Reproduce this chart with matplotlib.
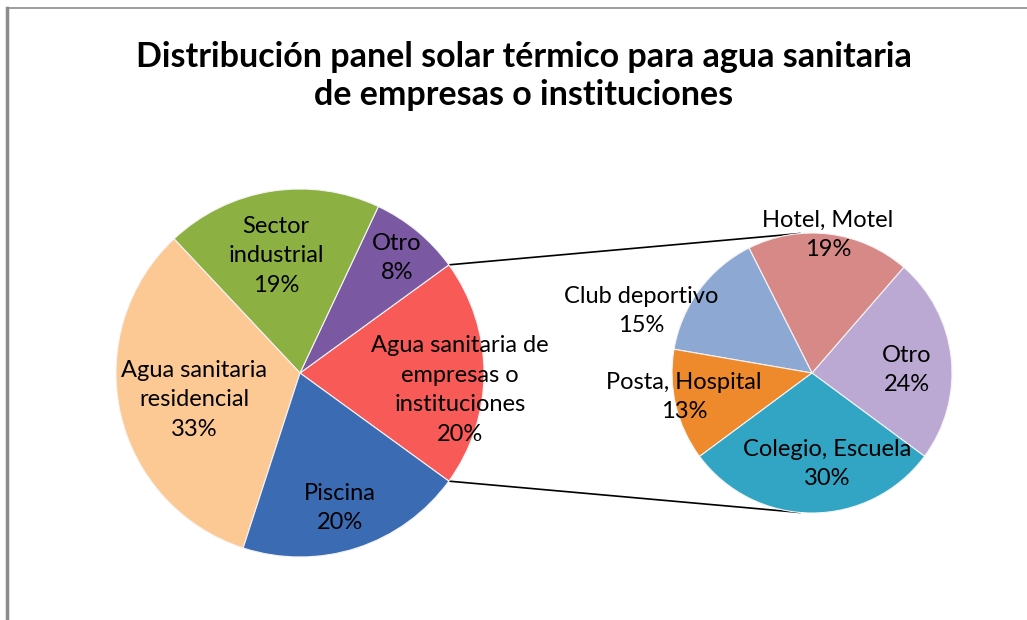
import matplotlib
matplotlib.use("Agg")
import matplotlib.pyplot as plt
import numpy as np
from matplotlib.lines import Line2D

# ---------------- data ----------------
title = "Distribución panel solar térmico para agua sanitaria\nde empresas o instituciones"

main_labels = ["Agua sanitaria de\nempresas o\ninstituciones", "Otro", "Sector\nindustrial",
               "Agua sanitaria\nresidencial", "Piscina"]
main_values = [20, 8, 19, 33, 20]
main_colors = ["#F85A58", "#7A58A2", "#8CB142", "#FCC994", "#3B6BB3"]

sub_labels = ["Otro", "Hotel, Motel", "Club deportivo", "Posta, Hospital", "Colegio, Escuela"]
sub_values = [24, 19, 15, 13, 30]
sub_colors = ["#BBA9D3", "#D78988", "#8EA8D4", "#EE8A2C", "#31A5C3"]

# ---------------- layout (pixels) ----------------
W, H = 1027, 620
fig = plt.figure(figsize=(W / 100, H / 100), dpi=100)
ax = fig.add_axes([0, 0, 1, 1])

def Y(y):
    return H - y

c1 = (300, Y(373)); r1 = 184
c2 = (812, Y(373)); r2 = 140

agg_span = main_values[0] / sum(main_values) * 360.0
start1 = -agg_span / 2.0
ax.pie(main_values, colors=main_colors, startangle=start1, counterclock=True,
       center=c1, radius=r1, frame=True,
       wedgeprops=dict(edgecolor="#F4F4F4", linewidth=0.8))

start2 = -36.5
ax.pie(sub_values, colors=sub_colors, startangle=start2, counterclock=True,
       center=c2, radius=r2, frame=True,
       wedgeprops=dict(edgecolor="#F4F4F4", linewidth=0.8))
ax.set_xlim(0, W)
ax.set_ylim(0, H)
ax.set_aspect("auto")
ax.axis("off")

# connector lines
a_top = np.deg2rad(agg_span / 2.0)
a_bot = np.deg2rad(-agg_span / 2.0)
p1 = (c1[0] + r1 * np.cos(a_top), c1[1] + r1 * np.sin(a_top))
p2 = (c1[0] + r1 * np.cos(a_bot), c1[1] + r1 * np.sin(a_bot))
q1 = (c2[0] + r2 * np.cos(np.deg2rad(95)), c2[1] + r2 * np.sin(np.deg2rad(95)))
q2 = (c2[0] + r2 * np.cos(np.deg2rad(-95)), c2[1] + r2 * np.sin(np.deg2rad(-95)))
ax.plot([p1[0], q1[0]], [p1[1], q1[1]], color="black", lw=1.2, zorder=0.5)
ax.plot([p2[0], q2[0]], [p2[1], q2[1]], color="black", lw=1.2, zorder=0.5)

# labels
font = "Lato"
fs = 17
ls = 1.5
main_pos = [(460, 390), (397, 258), (276, 256), (194, 400), (340, 508)]
for lab, v, (x, y) in zip(main_labels, main_values, main_pos):
    ax.text(x, Y(y), f"{lab}\n{v}%", ha="center", va="center", fontsize=fs,
            family=font, linespacing=ls, color="black", zorder=5)

sub_pos = [(907, 370), (828, 235), (641, 311), (684, 397), (827, 464)]
for lab, v, (x, y) in zip(sub_labels, sub_values, sub_pos):
    ax.text(x, Y(y), f"{lab}\n{v}%", ha="center", va="center", fontsize=fs,
            family=font, linespacing=ls, color="black", zorder=5)

# title
ax.text(524, Y(76), title, ha="center", va="center", fontsize=24.5, fontweight="bold",
        family=font, linespacing=1.25, color="black")

# chart frame
fig.add_artist(Line2D([6.5 / W, 6.5 / W], [0, 1 - 8 / H], color="#8C8C8C", lw=2.5))
fig.add_artist(Line2D([6.5 / W, 1], [1 - 7.5 / H, 1 - 7.5 / H], color="#8C8C8C", lw=1.2))

fig.savefig("out.png", dpi=100, facecolor="white")
